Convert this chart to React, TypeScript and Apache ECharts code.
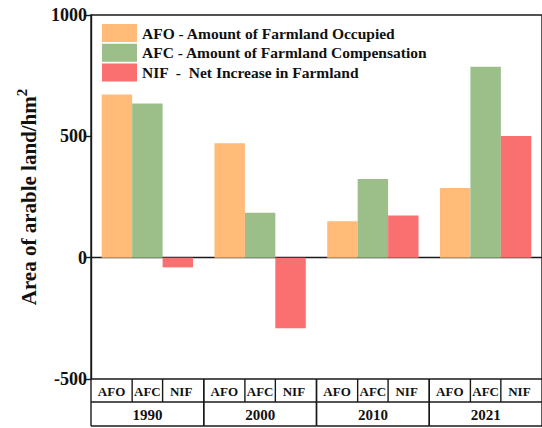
import React, { useEffect, useRef } from 'react';
import * as echarts from 'echarts';

const years = ['1990', '2000', '2010', '2021'];
const subLabels = ['AFO', 'AFC', 'NIF'];
const seriesNames = [
  'AFO - Amount of Farmland Occupied',
  'AFC - Amount of Farmland Compensation',
  'NIF  -  Net Increase in Farmland',
];
const afo = [672, 471, 150, 287];
const afc = [635, 185, 324, 787];
const nif = [-40, -291, 174, 501];
const yMin = -500;
const yMax = 1000;
const yStep = 500;
const colors = ['#FFBB77', '#9CBF8A', '#FA6F6F'];

const FONT = 'Liberation Serif';
const GAP = 0.19;
const ROW1 = 23;
const ROW2 = 24;
const LINE = '#1a1a1a';
const LW = 1.4;

export default function App() {
  const ref = useRef<HTMLDivElement>(null);
  useEffect(() => {
    if (!ref.current) return;
    const chart = echarts.init(ref.current, undefined, { renderer: 'svg' });
    const values = [afo, afc, nif];
    const option: any = {
      animation: false,
      backgroundColor: '#fff',
      textStyle: { fontFamily: FONT },
      grid: {
        left: 91,
        top: 15,
        width: 453,
        height: 364,
        show: true,
        borderColor: LINE,
        borderWidth: LW,
        containLabel: false,
      },
      legend: {
        data: seriesNames,
        orient: 'vertical',
        left: 102,
        top: 24,
        padding: 0,
        itemWidth: 35,
        itemHeight: 18,
        itemGap: 1.7,
        icon: 'rect',
        textStyle: { fontFamily: FONT, fontWeight: 'bold', fontSize: 15.5, color: '#111' },
      },
      xAxis: [
        {
          type: 'category',
          data: years,
          axisLine: { show: true, onZero: true, lineStyle: { color: LINE, width: LW } },
          axisTick: { show: false },
          axisLabel: { show: false },
          splitLine: { show: false },
        },
      ],
      yAxis: {
        type: 'value',
        min: yMin,
        max: yMax,
        interval: yStep,
        axisLine: { show: true, lineStyle: { color: LINE, width: LW } },
        axisTick: { show: true, length: 5, inside: false, lineStyle: { color: LINE, width: LW } },
        axisLabel: {
          fontFamily: FONT,
          fontWeight: 'bold',
          fontSize: 18,
          color: '#111',
          margin: 4,
          formatter: (v: number) => String(v),
        },
        splitLine: { show: false },
        name: '{a|Area of arable land/hm}{s|2}',
        nameLocation: 'middle',
        nameGap: 47,
        nameTextStyle: {
          rich: {
            a: { fontFamily: FONT, fontWeight: 'bold', fontSize: 21, color: '#111', lineHeight: 30 },
            s: { fontFamily: FONT, fontWeight: 'bold', fontSize: 15, color: '#111', verticalAlign: 'top', lineHeight: 30 },
          },
        },
      },
      series: [
        ...seriesNames.map((n, i) => ({
          type: 'bar',
          name: n,
          data: values[i],
          barGap: '0%',
          barCategoryGap: '19%',
          itemStyle: { color: colors[i] },
        })),
        {
          type: 'custom',
          name: 'table',
          clip: false,
          silent: true,
          data: years.map((_, i) => [i, yMin]),
          renderItem: (_params: any, api: any) => {
            const idx = api.value(0);
            const p = api.coord([idx, api.value(1)]);
            const cx = p[0];
            const y0 = p[1];
            const w = api.size([1, 0])[0];
            const left = cx - w / 2;
            const right = cx + w / 2;
            const barW = (w * (1 - GAP)) / 3;
            const b1 = left + (w * GAP) / 2 + barW;
            const b2 = b1 + barW;
            const y1 = y0 + ROW1;
            const y2 = y1 + ROW2;
            const ls = { stroke: LINE, lineWidth: LW };
            const ln = (x1: number, ya: number, x2: number, yb: number) => ({
              type: 'line',
              shape: { x1, y1: ya, x2, y2: yb },
              style: ls,
            });
            const txt = (t: string, x: number, y: number, size: number) => ({
              type: 'text',
              x,
              y,
              style: {
                text: t,
                fill: '#111',
                fontFamily: FONT,
                fontWeight: 'bold',
                fontSize: size,
                align: 'center',
                verticalAlign: 'middle',
              },
            });
            const subCenters = [(left + b1) / 2, (b1 + b2) / 2, (b2 + right) / 2 - 2];
            return {
              type: 'group',
              children: [
                ln(left, y0, left, y2),
                ln(right, y0, right, y2),
                ln(b1, y0, b1, y1),
                ln(b2, y0, b2, y1),
                ln(left, y1, right, y1),
                ln(left, y2, right, y2),
                ...subLabels.map((s, k) => txt(s, subCenters[k], (y0 + y1) / 2 + 1, 13)),
                txt(years[idx], cx, (y1 + y2) / 2 + 1, 15),
              ],
            };
          },
        },
      ],
    };
    chart.setOption(option);
    return () => chart.dispose();
  }, []);
  return (
    <div
      ref={ref}
      style={{ position: 'fixed', left: 0, top: 0, width: 542, height: 428, background: '#fff' }}
    />
  );
}
